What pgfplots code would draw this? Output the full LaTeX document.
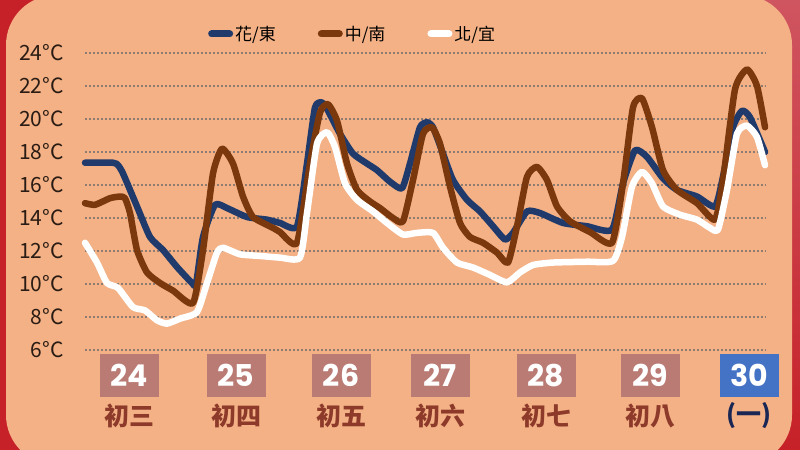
\documentclass[border=0pt]{standalone}
\usepackage{pgfplots}
\pgfplotsset{compat=1.18}
\usepackage{fontspec}
\newfontfamily\cjk{Noto Sans CJK TC}
\newfontfamily\pop{Poppins}
\definecolor{peach}{HTML}{F3B185}
\definecolor{redL}{HTML}{C62128}
\definecolor{redR}{HTML}{CF5560}
\definecolor{navy}{HTML}{1F3A6B}
\definecolor{brownL}{HTML}{7A380C}
\definecolor{rose}{HTML}{B97B74}
\definecolor{boxblue}{HTML}{4472C4}
\definecolor{cnred}{HTML}{8E3A2A}
\definecolor{gridc}{HTML}{8E7C72}
\definecolor{ytxt}{HTML}{2A1C14}
\definecolor{paren}{HTML}{1A2654}
\begin{document}
\begin{tikzpicture}
\useasboundingbox (0,0) rectangle (800bp,450bp);
\clip (0,0) rectangle (800bp,450bp);
\fill[redL] (0,0) rectangle (800bp,450bp);
\shade[top color=redR, bottom color=redL] (760bp,0) rectangle (800bp,450bp);
\fill[peach, rounded corners=50bp] (6bp,-15bp) rectangle (792bp,455bp);
\begin{axis}[
  scale only axis, width=681bp, height=297bp,
  at={(85bp,100bp)}, anchor=south west,
  xmin=85, xmax=766, ymin=6, ymax=24, clip=false,
  axis line style={draw=none}, major tick length=0pt,
  ytick={6,8,...,24},
  yticklabels={6°C,8°C,10°C,12°C,14°C,16°C,18°C,20°C,22°C,24°C},
  yticklabel style={font=\cjk\fontsize{21bp}{21bp}\selectfont, text=ytxt, anchor=east, inner sep=0pt, xshift=-21bp},
  ymajorgrids, grid style={gridc, line width=1.6bp, dash pattern=on 1.6bp off 2.4bp},
  xtick={129,236,341,440,546,650}, xticklabels={24,25,26,27,28,29},
  xticklabel style={font=\pop\bfseries\fontsize{30bp}{30bp}\selectfont, text=white, fill=rose, minimum width=59bp, minimum height=43bp, inner sep=0pt, anchor=north, yshift=-4bp},
  extra x ticks={749}, extra x tick labels={30},
  extra x tick style={xticklabel style={fill=boxblue}},
  legend columns=3,
  legend style={font=\cjk\fontsize{17bp}{17bp}\selectfont, text=black, draw=none, fill=none,
    at={(0.393,1.064)}, anchor=center, /tikz/every even column/.append style={column sep=40bp}},
  legend image code/.code={\draw[#1, line width=7bp, line cap=round] (0bp,0bp) -- (18bp,0bp);},
  every axis plot/.append style={line width=6.5bp, line join=round, line cap=round, smooth, tension=0.35},
]
\addplot[navy] coordinates {
(85,17.35) (113,17.35) (118,17.2) (123,16.7) (137,14.7) (150,12.85) (163,12.06) (177,11.03) (192,10.06) (196,10.0)
(203,12.85) (215,14.8) (227,14.6) (247,14.06) (267,13.9) (280,13.7) (297,13.5)
(307,17.3) (315,20.7) (322,21.0) (328,20.5) (340,19.1) (353,17.9) (367,17.3) (377,16.9) (390,16.2) (402,15.8)
(410,17.3) (420,19.5) (427,19.8) (433,19.5) (443,17.9) (453,16.3) (467,15.1) (480,14.4) (493,13.5) (505,12.7)
(513,13.1) (527,14.4) (540,14.3) (563,13.7) (587,13.5) (612,13.3)
(623,16.1) (635,18.1) (647,17.7) (663,16.4) (677,15.7) (697,15.3) (715,14.7)
(723,16.5) (733,19.5) (742,20.5) (750,20.1) (765,18.0)
};
\addlegendentry{花/東}
\addplot[brownL] coordinates {
(85,14.9) (95,14.8) (110,15.2) (120,15.3) (125,15.2) (130,14.3) (137,12.06) (147,10.7) (160,10.06) (173,9.6) (193,8.85)
(203,12.06) (213,16.7) (222,18.2) (233,17.3) (243,15.3) (253,14.06) (273,13.4) (280,13.15) (297,12.5)
(310,17.3) (320,20.4) (328,20.9) (337,19.9) (347,17.3) (357,15.7) (370,15.0) (380,14.6) (393,14.0) (403,13.8)
(413,16.3) (423,19.1) (432,19.5) (440,18.5) (450,15.9) (460,13.7) (470,12.85) (483,12.5) (497,11.9) (508,11.3)
(517,13.5) (527,16.5) (537,17.1) (547,16.3) (557,14.7) (570,13.8) (590,13.15) (612,12.5)
(623,16.1) (633,20.7) (642,21.25) (652,19.5) (663,16.9) (677,15.7) (697,14.9) (715,13.9)
(723,16.3) (735,21.8) (747,23.0) (757,22.0) (765,19.5)
};
\addlegendentry{中/南}
\addplot[white] coordinates {
(85,12.5) (97,11.3) (107,10.06) (118,9.76) (133,8.6) (145,8.4) (157,7.8) (167,7.6) (180,7.9) (197,8.3)
(207,10.06) (217,11.9) (223,12.2) (240,11.8) (260,11.7) (280,11.6) (300,11.6)
(307,14.3) (317,18.5) (327,19.2) (335,18.3) (345,16.1) (357,15.1) (373,14.4) (387,13.7) (403,13.0) (417,13.1) (433,13.1)
(443,12.2) (457,11.3) (473,11.0) (490,10.55) (507,10.1) (520,10.7) (533,11.15) (553,11.3) (587,11.35) (613,11.4)
(622,12.85) (632,15.9) (642,16.8) (652,16.1) (663,14.7) (680,14.2) (697,13.9) (710,13.4) (718,13.3)
(727,15.7) (737,19.1) (747,19.6) (757,18.9) (765,17.2)
};
\addlegendentry{北/宜}
\node[font=\cjk\bfseries\fontsize{25bp}{25bp}\selectfont, text=cnred] at (axis cs:129,6) [yshift=-66bp] {初三};
\node[font=\cjk\bfseries\fontsize{25bp}{25bp}\selectfont, text=cnred] at (axis cs:236,6) [yshift=-66bp] {初四};
\node[font=\cjk\bfseries\fontsize{25bp}{25bp}\selectfont, text=cnred] at (axis cs:341,6) [yshift=-66bp] {初五};
\node[font=\cjk\bfseries\fontsize{25bp}{25bp}\selectfont, text=cnred] at (axis cs:440,6) [yshift=-66bp] {初六};
\node[font=\cjk\bfseries\fontsize{25bp}{25bp}\selectfont, text=cnred] at (axis cs:546,6) [yshift=-66bp] {初七};
\node[font=\cjk\bfseries\fontsize{25bp}{25bp}\selectfont, text=cnred] at (axis cs:650,6) [yshift=-66bp] {初八};
\node[font=\cjk\bfseries\fontsize{25bp}{25bp}\selectfont, text=paren] at (axis cs:749,6) [yshift=-66bp] {(一)};
\end{axis}
\end{tikzpicture}
\end{document}
